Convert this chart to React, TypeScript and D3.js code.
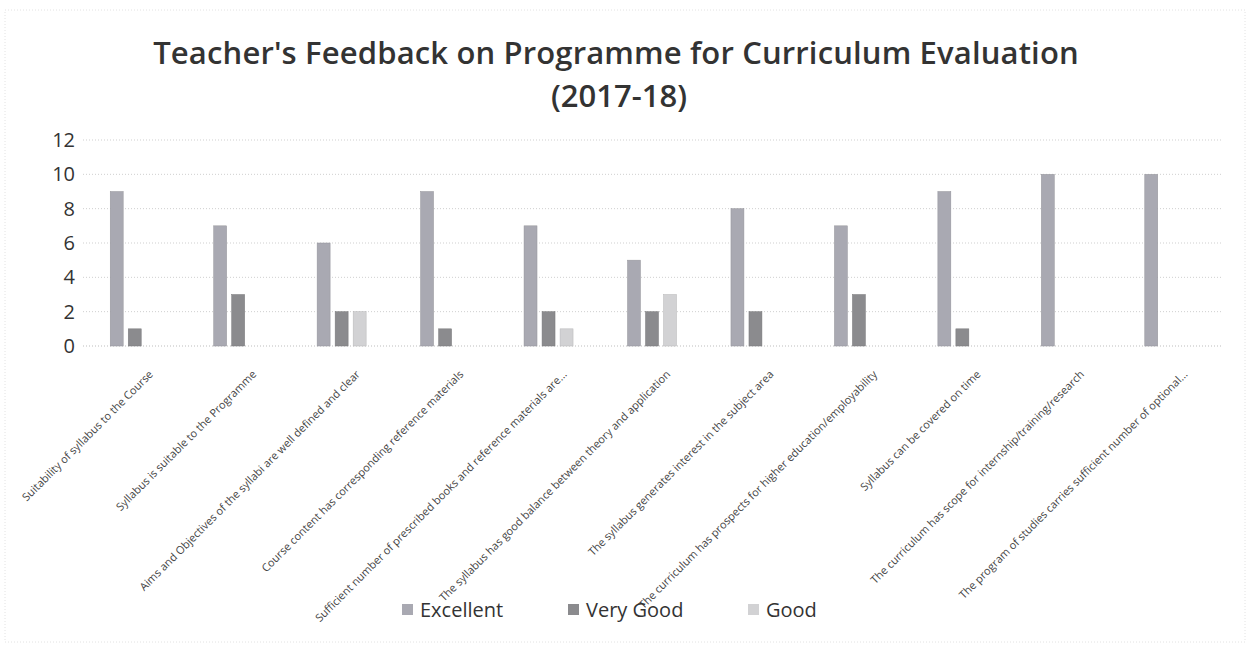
import React, { useEffect, useRef } from 'react';
import * as d3 from 'd3';

const categories = [
  'Suitability of syllabus to the Course',
  'Syllabus is suitable to the Programme',
  'Aims and Objectives of the syllabi are well defined and clear',
  'Course content has corresponding reference materials',
  'Sufficient number of prescribed books and reference materials are...',
  'The syllabus has good balance between theory and application',
  'The syllabus generates interest in the subject area',
  'The curriculum has prospects for higher education/employability',
  'Syllabus can be covered on time',
  'The curriculum has scope for internship/training/research',
  'The program of studies carries sufficient number of optional...',
];

const seriesNames = ['Excellent', 'Very Good', 'Good'];
const excellent = [9, 7, 6, 9, 7, 5, 8, 7, 9, 10, 10];
const veryGood = [1, 3, 2, 1, 2, 2, 2, 3, 1, 0, 0];
const good = [0, 0, 2, 0, 1, 3, 0, 0, 0, 0, 0];
const yTicks = [0, 2, 4, 6, 8, 10, 12];

const colors = ['#a9a9b2', '#8b8b8e', '#d2d2d4'];

const W = 1250;
const H = 646;
const font = '"Open Sans", Carlito, Calibri, sans-serif';

const App = () => {
  const svgRef = useRef<SVGSVGElement>(null);

  useEffect(() => {
    const svg = d3.select(svgRef.current);
    svg.selectAll('*').remove();

    const left = 83;
    const right = 1221;
    const top = 140;
    const bottom = 346;

    const x = d3.scaleBand<string>().domain(categories).range([left, right]);
    const y = d3.scaleLinear().domain([0, 12]).range([bottom, top]);
    const inner = d3.scaleBand<string>()
      .domain(seriesNames)
      .range([0, 49])
      .paddingInner(0.28);

    // frame of the scanned chart
    svg.append('rect')
      .attr('x', 5).attr('y', 10).attr('width', W - 10).attr('height', H - 14)
      .attr('fill', 'none').attr('stroke', '#e2e2e2').attr('stroke-dasharray', '1,2');

    // title
    svg.append('text')
      .attr('x', 616).attr('y', 64)
      .attr('text-anchor', 'middle')
      .attr('font-family', font).attr('font-weight', 600).attr('font-size', 31)
      .attr('letter-spacing', 0.15)
      .attr('fill', '#333')
      .text("Teacher's Feedback on Programme for Curriculum Evaluation");
    svg.append('text')
      .attr('x', 619).attr('y', 107)
      .attr('text-anchor', 'middle')
      .attr('font-family', font).attr('font-weight', 600).attr('font-size', 31)
      .attr('fill', '#333')
      .text('(2017-18)');

    // gridlines
    svg.append('g')
      .selectAll('line')
      .data(yTicks)
      .join('line')
      .attr('x1', left).attr('x2', right)
      .attr('y1', d => y(d)).attr('y2', d => y(d))
      .attr('stroke', d => (d === 0 ? '#bdbdbd' : '#cfcfcf'))
      .attr('stroke-dasharray', '1,2');

    // y axis
    const yAxis = svg.append('g')
      .attr('transform', `translate(${left - 8},0)`)
      .call(d3.axisLeft(y).tickValues(yTicks).tickSize(0).tickPadding(0));
    yAxis.select('.domain').remove();
    yAxis.selectAll('text')
      .attr('font-family', font).attr('font-size', 20).attr('fill', '#333');

    // bars
    const series = [excellent, veryGood, good];
    series.forEach((vals, si) => {
      const pts = vals.map((v, i) => ({ cat: categories[i], v })).filter(p => p.v > 0);
      svg.append('g')
        .selectAll('rect')
        .data(pts)
        .join('rect')
        .attr('x', p => (x(p.cat) as number) + x.bandwidth() / 2 - 24.5 + (inner(seriesNames[si]) as number))
        .attr('y', p => y(p.v))
        .attr('width', inner.bandwidth())
        .attr('height', p => bottom - y(p.v))
        .attr('fill', colors[si])
        .attr('stroke', d3.color(colors[si])!.darker(0.4).toString())
        .attr('stroke-width', 0.5);
    });

    // x labels
    svg.append('g')
      .selectAll('text')
      .data(categories)
      .join('text')
      .attr('transform', d => `translate(${(x(d) as number) + x.bandwidth() / 2 + 19},${375}) rotate(-45)`)
      .attr('text-anchor', 'end')
      .attr('font-family', font).attr('font-size', 11)
      .attr('fill', '#444')
      .text(d => d);

    // legend
    const legendX = [402, 568, 748];
    const lg = svg.append('g')
      .selectAll('g')
      .data(seriesNames)
      .join('g')
      .attr('transform', (d, i) => `translate(${legendX[i]},609)`);
    lg.append('rect')
      .attr('x', 0).attr('y', -5).attr('width', 11).attr('height', 11)
      .attr('fill', (d, i) => colors[i]);
    lg.append('text')
      .attr('x', 18).attr('y', 8)
      .attr('font-family', font).attr('font-size', 20).attr('fill', '#333')
      .text(d => d);
  }, []);

  return (
    <svg ref={svgRef} width={W} height={H}
      style={{ position: 'absolute', left: 0, top: 0, background: '#fff' }} />
  );
};

export default App;
